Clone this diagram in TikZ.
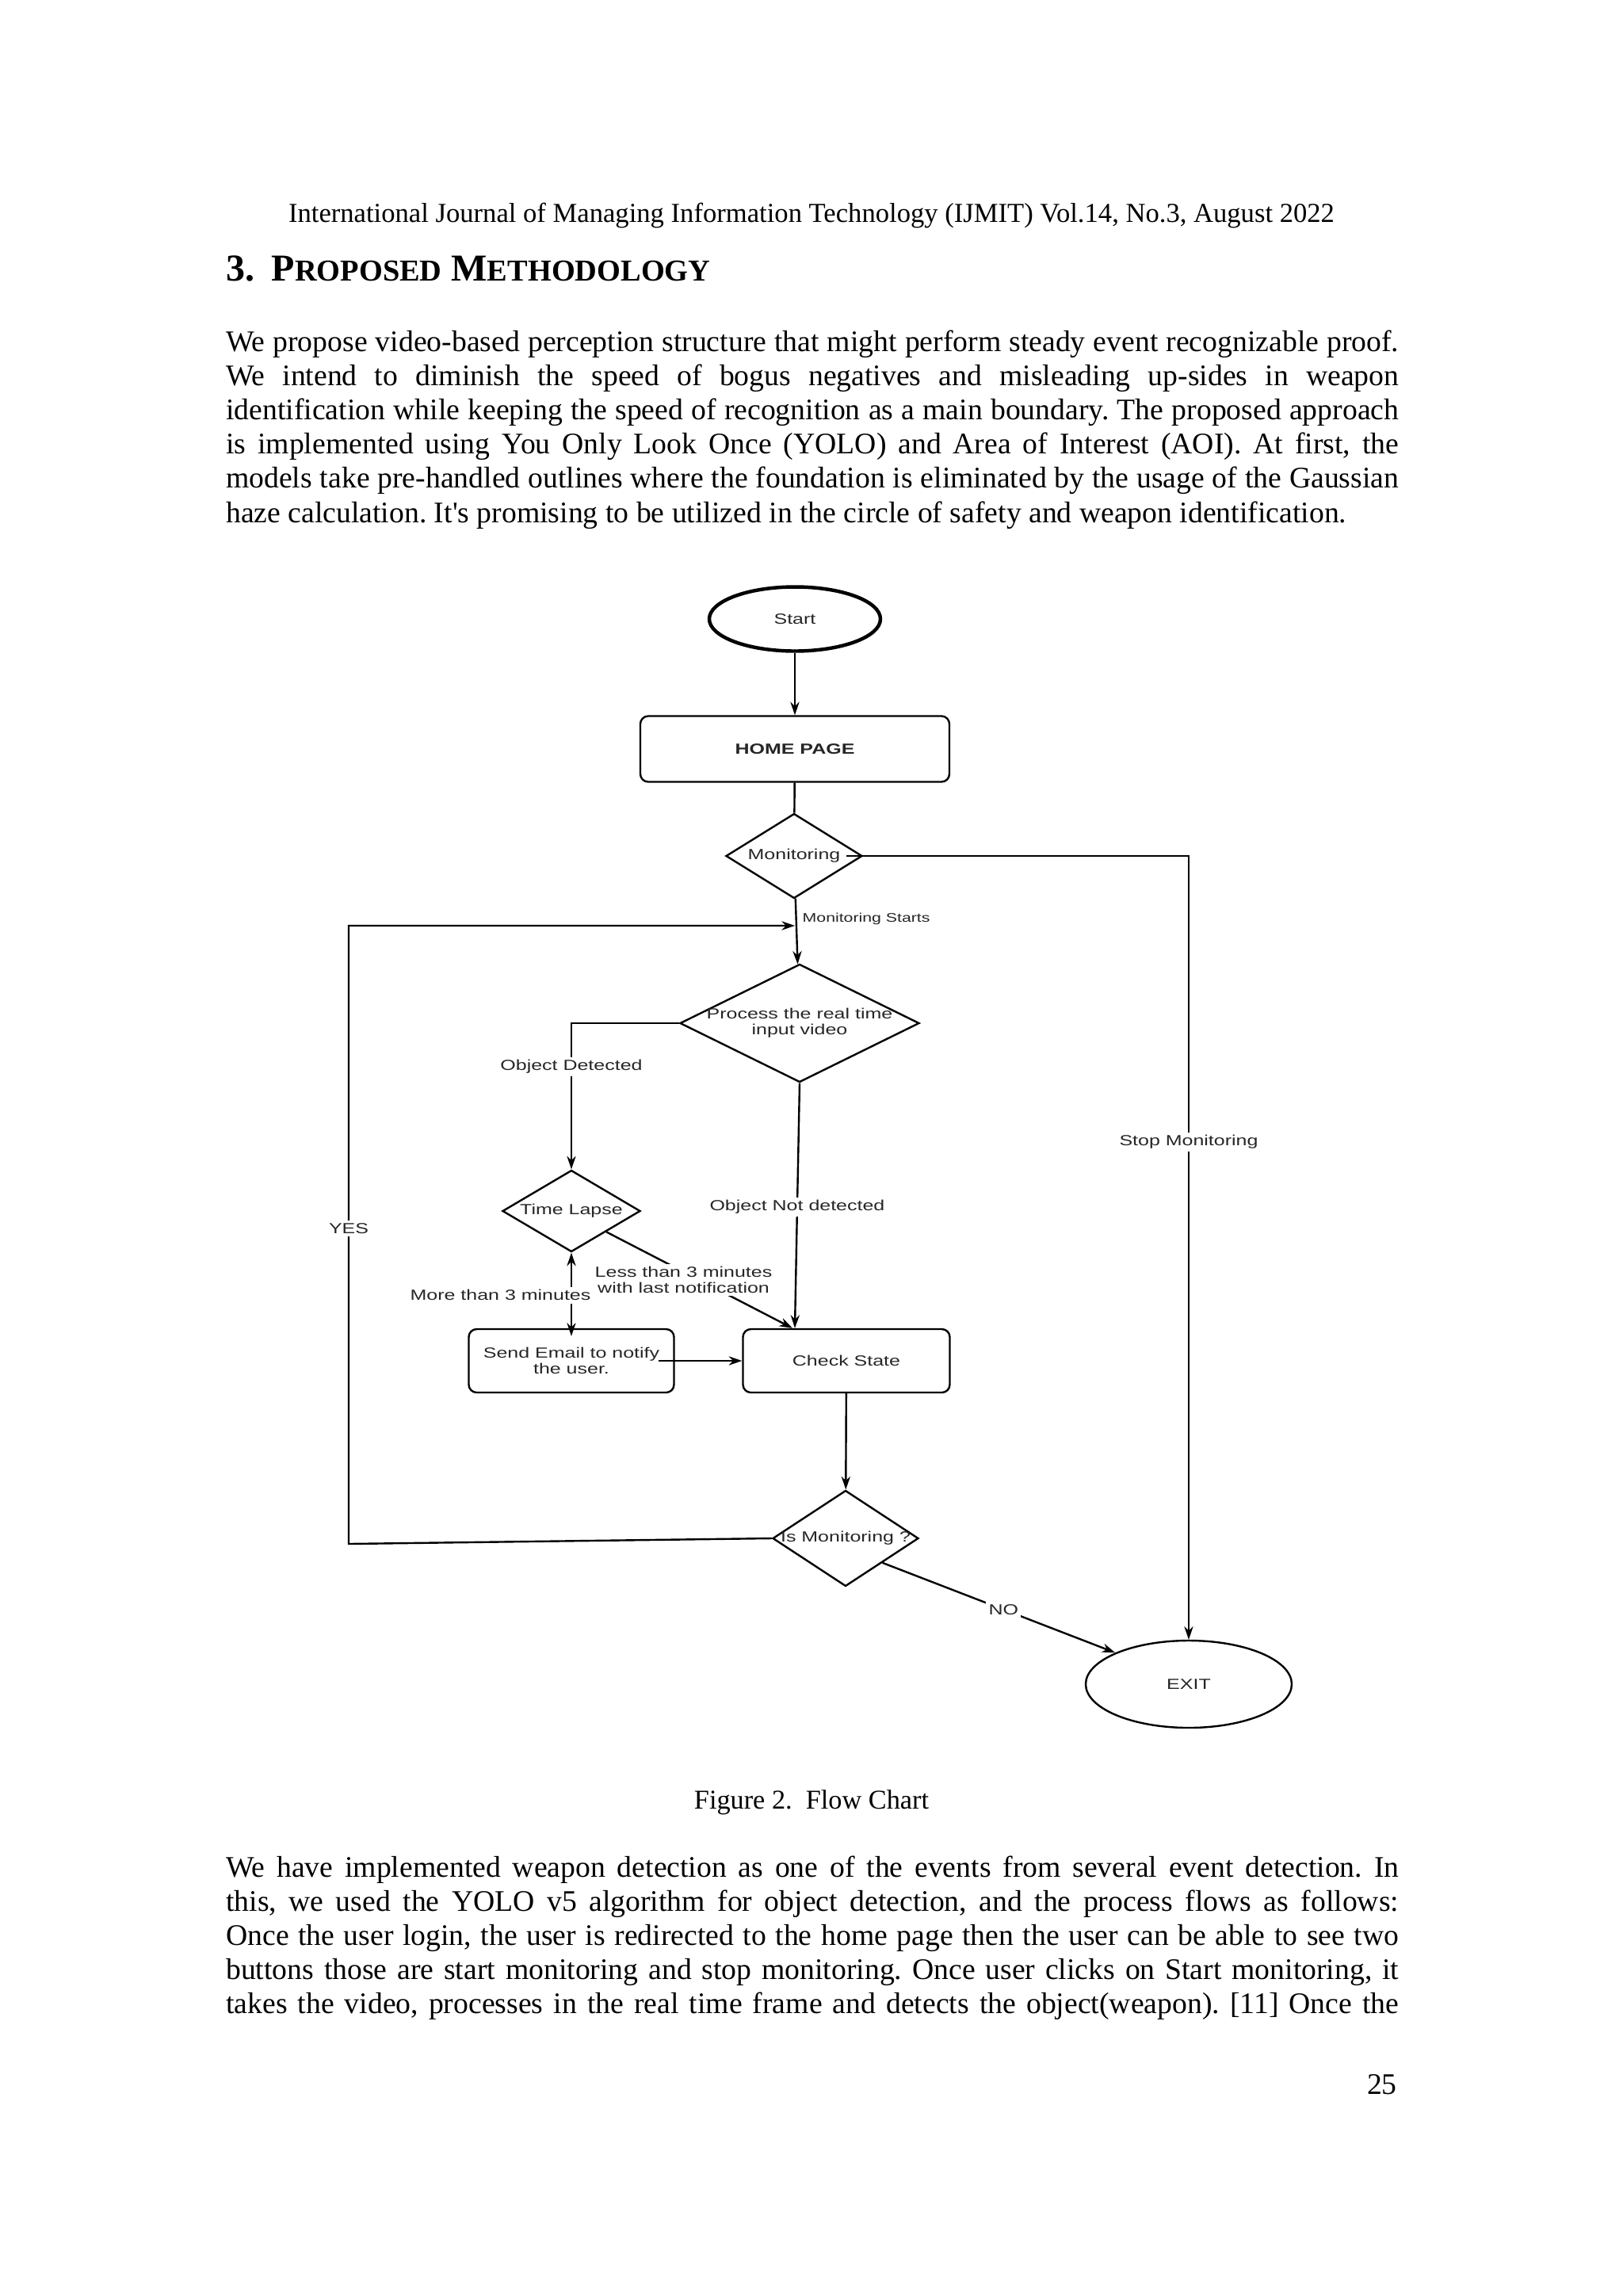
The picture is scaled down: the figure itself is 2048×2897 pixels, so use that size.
\documentclass[tikz,border=0pt]{standalone}
\usepackage{fontspec}
\setmainfont{Liberation Serif}
\newfontfamily\chartfont[FakeStretch=1.35]{Liberation Sans}
\usetikzlibrary{shapes.geometric,arrows.meta}
\newlength{\pxu}
\setlength{\pxu}{0.010254cm}
\hyphenpenalty=10000
\exhyphenpenalty=10000
\frenchspacing

\begin{document}
\begin{tikzpicture}[x=0.010254cm, y=-0.010254cm, line width=0.7pt,
  chart/.style={font=\chartfont\fontsize{5.4}{5.8}\selectfont, text=black!85},
  term/.style={chart, ellipse, draw, inner sep=0pt},
  stepbox/.style={chart, draw, rounded corners=10\pxu, minimum width=261\pxu,
    minimum height=80\pxu, inner sep=0pt, align=center},
  choice/.style={chart, diamond, draw, inner sep=0pt},
  lbl/.style={chart, fill=white, inner sep=1pt, align=center},
  flow/.style={-{Stealth[length=0.17cm, width=0.115cm]}},
  para/.style={anchor=north west, inner sep=0pt, text width=1480\pxu,
    font=\fontsize{11}{12.6}\selectfont, align=justify}]
  \useasboundingbox[fill=white] (0,0) rectangle (2048,2897);

  % page text
  \node[anchor=base, inner sep=0pt, font=\fontsize{10.1}{12}\selectfont] (header) at (1024,280)
    {International Journal of Managing Information Technology (IJMIT) Vol.14, No.3, August 2022};
  \node[anchor=base west, inner sep=0pt, font=\fontsize{14}{16}\selectfont\bfseries] (heading) at (284,354)
    {3.\hspace{6.3pt}P{\fontsize{11.2}{13}\selectfont ROPOSED} M{\fontsize{11.2}{13}\selectfont ETHODOLOGY}};
  \node[para] (intro) at (284,411.7) {\strut We propose video-based perception structure that might perform steady event recognizable proof.\linebreak
    We intend to diminish the speed of bogus negatives and misleading up-sides in weapon\linebreak
    identification while keeping the speed of recognition as a main boundary. The proposed approach\linebreak
    is implemented using You Only Look Once (YOLO) and Area of Interest (AOI). At first, the\linebreak
    models take pre-handled outlines where the foundation is eliminated by the usage of the Gaussian\linebreak
    haze calculation. It\textquotesingle s promising to be utilized in the circle of safety and weapon identification.};

  % flow chart
  \node[term, line width=1.3pt, minimum width=216\pxu, minimum height=81\pxu] (start) at (1003,781) {Start};
  \node[stepbox, minimum width=390\pxu, minimum height=83\pxu] (home) at (1003,945) {\bfseries HOME PAGE};
  \node[choice, minimum width=172\pxu, minimum height=107\pxu,
    label={[chart]center:Monitoring}] (mon) at (1002,1080) {};
  \node[choice, minimum width=302\pxu, minimum height=149\pxu,
    label={[chart, align=center]center:Process the real time\\input video}] (proc) at (1009,1291) {};
  \node[choice, minimum width=174\pxu, minimum height=103\pxu,
    label={[chart]center:Time Lapse}] (lapse) at (721,1528) {};
  \node[stepbox, minimum width=259\pxu] (email) at (721,1717) {Send Email to notify\\the user.};
  \node[stepbox] (check) at (1068,1717) {Check State};
  \node[choice, minimum width=184\pxu, minimum height=121\pxu,
    label={[chart]center:Is Monitoring ?}] (ismon) at (1067,1941) {};
  \node[term, minimum width=260\pxu, minimum height=110\pxu] (exit) at (1500,2125) {EXIT};

  \coordinate (loopin) at (1003,1168);
  \coordinate (yesbot) at (440,1948);
  \coordinate (yestop) at (440,1168);

  \draw[flow] (start) -- (home);
  \draw (home) -- (mon);
  \draw[flow] ([xshift=-21\pxu]mon.east) -- (mon.east -| exit.north)
    -- node[lbl, pos=0.365] {Stop Monitoring} (exit.north);
  \draw[flow] (mon) -- node[chart, pos=0.31, anchor=west, inner sep=2pt,
    font=\chartfont\fontsize{4.6}{5}\selectfont] {Monitoring Starts} (proc);
  \draw[flow] (ismon.west) -- (yesbot) -- node[lbl, pos=0.51] {YES} (yestop) -- (loopin);
  \draw[flow] (proc.west) -- (proc.west -| lapse.north)
    -- node[lbl, pos=0.296] {Object Detected} (lapse.north);
  \draw[flow] (proc.south) -- node[lbl, pos=0.506] {Object Not detected} ([xshift=-65\pxu]check.north);
  \draw[flow] (lapse.south east) -- node[lbl, xshift=-20\pxu]
    {Less than 3 minutes\\with last notification} ([xshift=-68\pxu]check.north);
  \draw[{Stealth[length=0.17cm, width=0.115cm]}-{Stealth[length=0.17cm, width=0.115cm]}]
    (lapse.south) -- node[lbl, pos=0.51, anchor=east, xshift=29\pxu] {More than 3 minutes}
    ([yshift=-10\pxu]email.north);
  \draw[flow] ([xshift=-21\pxu]email.east) -- (check.west);
  \draw[flow] (check) -- (ismon);
  \draw[flow] (ismon.south east) -- node[lbl, pos=0.52] {NO} (exit.north west);

  % page text below the chart
  \node[anchor=base, inner sep=0pt, font=\fontsize{10}{12}\selectfont] (caption) at (1024,2282)
    {Figure 2.\ \ Flow Chart};
  \node[para] (body) at (284,2336.7) {\strut We have implemented weapon detection as one of the events from several event detection. In\linebreak
    this, we used the YOLO v5 algorithm for object detection, and the process flows as follows:\linebreak
    Once the user login, the user is redirected to the home page then the user can be able to see two\linebreak
    buttons those are start monitoring and stop monitoring. Once user clicks on Start monitoring, it\linebreak
    takes the video, processes in the real time frame and detects the object(weapon). [11] Once the\linebreak};
  \node[anchor=base east, inner sep=0pt, font=\fontsize{11}{13}\selectfont] (pageno) at (1764,2642) {25};
\end{tikzpicture}
\end{document}
